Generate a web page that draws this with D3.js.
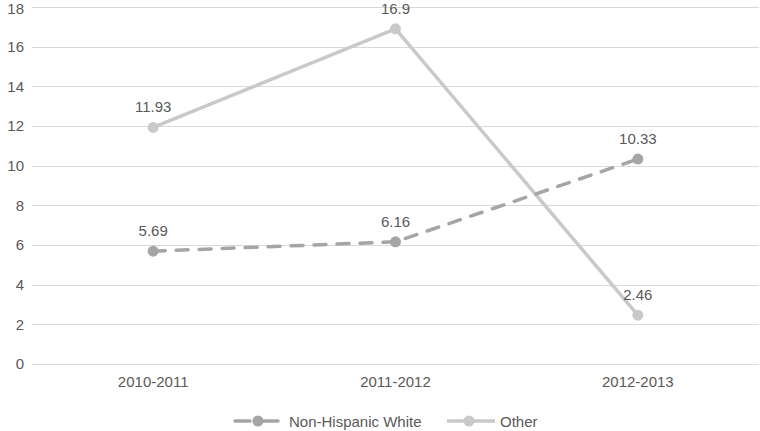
<!DOCTYPE html>
<html>
<head>
<meta charset="utf-8">
<script src="https://cdn.jsdelivr.net/npm/d3@7"></script>
<style>
  html, body { margin: 0; padding: 0; background: #fff; }
  text { font-family: "Liberation Sans", Arial, sans-serif; fill: #595959; }
</style>
</head>
<body>
<script>
// data
const years = ["2010-2011", "2011-2012", "2012-2013"];
const nonHispanicWhite = [5.69, 6.16, 10.33];
const other = [11.93, 16.9, 2.46];
const yTicks = [0, 2, 4, 6, 8, 10, 12, 14, 16, 18];

const width = 760;
const height = 431;
const margin = { top: 7, right: 1, bottom: 67, left: 32 };
const fontSize = 15;

const svg = d3.select("body").append("svg")
  .attr("width", width)
  .attr("height", height);

const x = d3.scaleBand()
  .domain(years)
  .range([margin.left, width - margin.right]);

const y = d3.scaleLinear()
  .domain([0, 18])
  .range([height - margin.bottom, margin.top]);

// gridlines
svg.append("g")
  .selectAll("line")
  .data(yTicks)
  .enter()
  .append("line")
  .attr("x1", margin.left)
  .attr("x2", width - margin.right)
  .attr("y1", (d) => Math.round(y(d)) + 0.5)
  .attr("y2", (d) => Math.round(y(d)) + 0.5)
  .attr("stroke", "#d9d9d9")
  .attr("stroke-width", 1);

// y axis labels
const yAxis = svg.append("g")
  .attr("transform", `translate(${margin.left - 8},0)`)
  .call(d3.axisLeft(y).tickValues(yTicks).tickSize(0).tickPadding(0));
yAxis.select(".domain").remove();
yAxis.selectAll("text")
  .attr("font-size", fontSize)
  .attr("font-family", "Liberation Sans, Arial, sans-serif")
  .attr("fill", "#595959");
// top label sits right at the edge, nudge it down a touch so it is not clipped
yAxis.selectAll("text").filter((d) => d === 18).attr("dy", "0.42em");

// x axis labels
const xAxis = svg.append("g")
  .attr("transform", `translate(0,${height - margin.bottom + 12})`)
  .call(d3.axisBottom(x).tickSize(0).tickPadding(0));
xAxis.select(".domain").remove();
xAxis.selectAll("text")
  .attr("font-size", fontSize)
  .attr("font-family", "Liberation Sans, Arial, sans-serif")
  .attr("fill", "#595959");

const cx = (d, i) => x(years[i]) + x.bandwidth() / 2;

const series = [
  { name: "Other", values: other, color: "#c9c9c9", dash: null },
  { name: "Non-Hispanic White", values: nonHispanicWhite, color: "#a5a5a5", dash: "12 11" },
];

const line = d3.line()
  .x((d, i) => cx(d, i))
  .y((d) => y(d));

series.forEach((s) => {
  const g = svg.append("g");
  g.append("path")
    .datum(s.values)
    .attr("fill", "none")
    .attr("stroke", s.color)
    .attr("stroke-width", 3.5)
    .attr("stroke-linecap", "round")
    .attr("stroke-linejoin", "round")
    .attr("stroke-dasharray", s.dash)
    .attr("d", line);

  g.selectAll("circle")
    .data(s.values)
    .enter()
    .append("circle")
    .attr("cx", cx)
    .attr("cy", (d) => y(d))
    .attr("r", 5.5)
    .attr("fill", s.color);

  g.selectAll("text")
    .data(s.values)
    .enter()
    .append("text")
    .attr("x", cx)
    .attr("y", (d) => y(d) - 15)
    .attr("text-anchor", "middle")
    .attr("font-size", fontSize)
    .text((d) => d);
});

// legend
const legendY = 421;
const legendItems = [
  { name: "Non-Hispanic White", color: "#a5a5a5", dash: true, x0: 234 },
  { name: "Other", color: "#c9c9c9", dash: false, x0: 447 },
];

legendItems.forEach((item) => {
  const lg = svg.append("g").attr("transform", `translate(${item.x0},${legendY})`);
  if (item.dash) {
    lg.append("line").attr("x1", 1).attr("x2", 16).attr("y1", 0).attr("y2", 0)
      .attr("stroke", item.color).attr("stroke-width", 3.5).attr("stroke-linecap", "round");
    lg.append("line").attr("x1", 28).attr("x2", 44).attr("y1", 0).attr("y2", 0)
      .attr("stroke", item.color).attr("stroke-width", 3.5).attr("stroke-linecap", "round");
  } else {
    lg.append("line").attr("x1", 0).attr("x2", 48).attr("y1", 0).attr("y2", 0)
      .attr("stroke", item.color).attr("stroke-width", 3.5);
  }
  lg.append("circle").attr("cx", item.dash ? 24 : 22).attr("cy", 0).attr("r", 5.5).attr("fill", item.color);
  lg.append("text")
    .attr("x", item.dash ? 55 : 53)
    .attr("y", 5.5)
    .attr("font-size", fontSize)
    .text(item.name);
});
</script>
</body>
</html>
